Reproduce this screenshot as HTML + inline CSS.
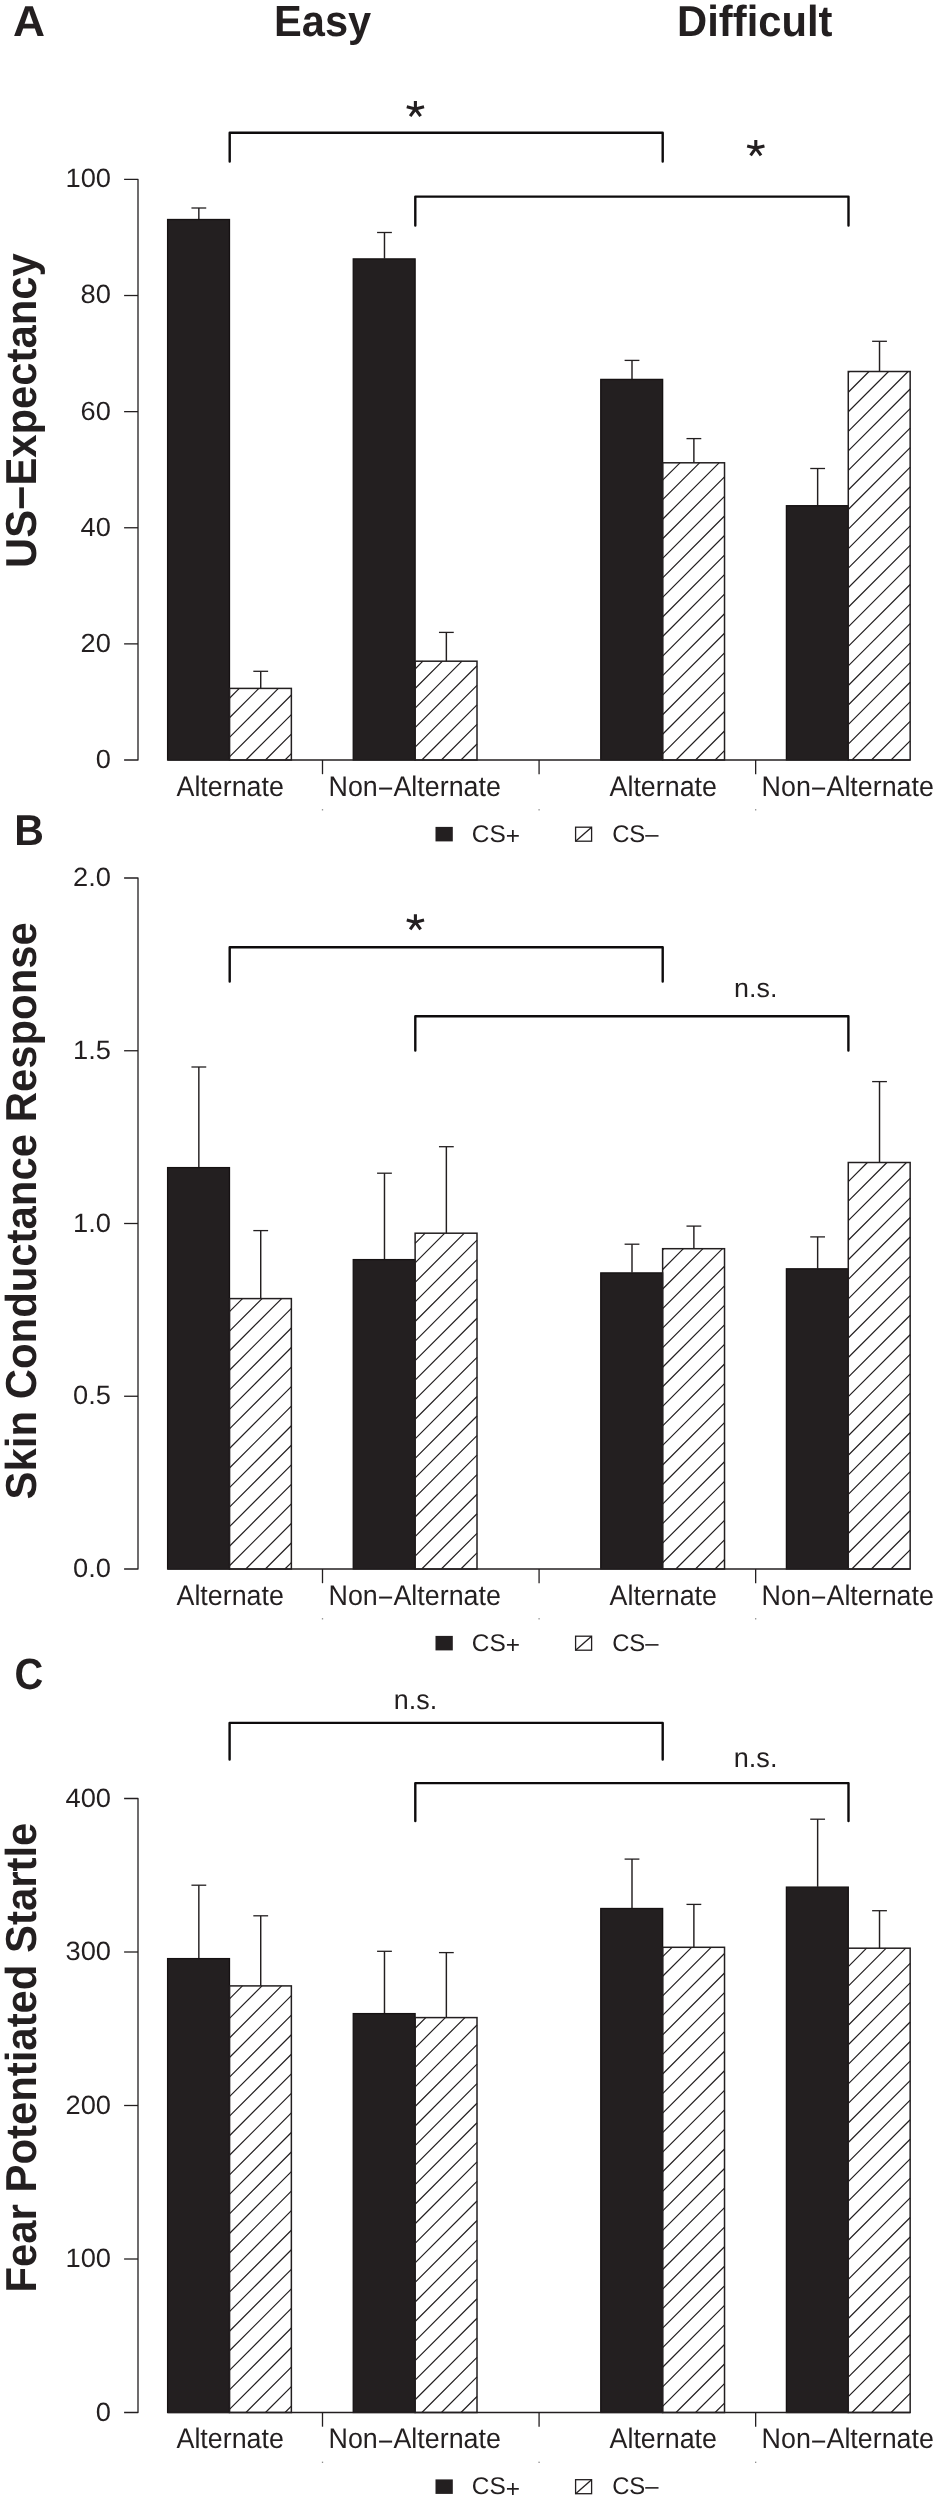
<!DOCTYPE html><html><head><meta charset="utf-8"><style>html,body{margin:0;padding:0;background:#fff;}svg{display:block;will-change:transform;}text{font-family:"Liberation Sans",sans-serif;fill:#231f20;text-rendering:geometricPrecision;}</style></head><body>
<svg width="941" height="2500" viewBox="0 0 941 2500">
<rect width="941" height="2500" fill="#fff"/>
<text transform="translate(12.91 35.50) scale(1.0245 0.9984)" font-size="43.3" font-weight="bold">A</text>
<text transform="translate(14.26 844.84) scale(0.9487 0.9984)" font-size="43.3" font-weight="bold">B</text>
<text transform="translate(14.40 1688.92) scale(0.9204 1.0131)" font-size="43.3" font-weight="bold">C</text>
<text transform="translate(274.05 35.70) scale(0.9900 1.0384)" font-size="42" font-weight="bold">Easy</text>
<text transform="translate(677.10 35.70) scale(0.9941 1.0332)" font-size="42" font-weight="bold">Difficult</text>
<text transform="translate(35.90 410.64) rotate(-90) scale(0.9946 1.0313)" font-size="42" font-weight="bold" text-anchor="middle">US−Expectancy</text>
<text transform="translate(35.90 1210.78) rotate(-90) scale(0.9973 1.0313)" font-size="42" font-weight="bold" text-anchor="middle">Skin Conductance Response</text>
<text transform="translate(35.90 2057.60) rotate(-90) scale(0.9967 1.0313)" font-size="42" font-weight="bold" text-anchor="middle">Fear Potentiated Startle</text>
<text transform="translate(110.86 767.95) scale(1.0072 0.9712)" font-size="27" text-anchor="end">0</text>
<text transform="translate(110.82 651.83) scale(1.0072 0.9712)" font-size="27" text-anchor="end">20</text>
<text transform="translate(110.82 535.71) scale(1.0072 0.9712)" font-size="27" text-anchor="end">40</text>
<text transform="translate(110.82 419.59) scale(1.0072 0.9712)" font-size="27" text-anchor="end">60</text>
<text transform="translate(110.91 303.41) scale(1.0108 0.9765)" font-size="27" text-anchor="end">80</text>
<text transform="translate(111.04 187.41) scale(1.0108 0.9765)" font-size="27" text-anchor="end">100</text>
<text transform="translate(230.21 795.90) scale(0.9939 1.0500)" font-size="27" text-anchor="middle">Alternate</text>
<text transform="translate(414.71 795.90) scale(0.9938 1.0500)" font-size="27" text-anchor="middle">Non<tspan dy="2.2">−</tspan><tspan dy="-2.2">Alternate</tspan></text>
<text transform="translate(663.25 795.90) scale(0.9939 1.0500)" font-size="27" text-anchor="middle">Alternate</text>
<text transform="translate(847.74 795.90) scale(0.9938 1.0500)" font-size="27" text-anchor="middle">Non<tspan dy="2.2">−</tspan><tspan dy="-2.2">Alternate</tspan></text>
<text transform="translate(471.75 841.99) scale(0.9968 0.9855)" font-size="24.5">CS<tspan dy="2.4">+</tspan></text>
<text transform="translate(612.14 841.99) scale(0.9741 0.9855)" font-size="24.5">CS–</text>
<text transform="translate(110.97 1577.00) scale(1.0108 0.9765)" font-size="27" text-anchor="end">0.0</text>
<text transform="translate(110.97 1404.25) scale(1.0108 0.9765)" font-size="27" text-anchor="end">0.5</text>
<text transform="translate(110.97 1231.50) scale(1.0108 0.9765)" font-size="27" text-anchor="end">1.0</text>
<text transform="translate(110.97 1058.63) scale(1.0108 0.9765)" font-size="27" text-anchor="end">1.5</text>
<text transform="translate(110.97 886.00) scale(1.0108 0.9765)" font-size="27" text-anchor="end">2.0</text>
<text transform="translate(230.21 1604.90) scale(0.9939 1.0500)" font-size="27" text-anchor="middle">Alternate</text>
<text transform="translate(414.71 1604.90) scale(0.9938 1.0500)" font-size="27" text-anchor="middle">Non<tspan dy="2.2">−</tspan><tspan dy="-2.2">Alternate</tspan></text>
<text transform="translate(663.25 1604.90) scale(0.9939 1.0500)" font-size="27" text-anchor="middle">Alternate</text>
<text transform="translate(847.74 1604.90) scale(0.9938 1.0500)" font-size="27" text-anchor="middle">Non<tspan dy="2.2">−</tspan><tspan dy="-2.2">Alternate</tspan></text>
<text transform="translate(471.75 1650.99) scale(0.9968 0.9855)" font-size="24.5">CS<tspan dy="2.4">+</tspan></text>
<text transform="translate(612.14 1650.99) scale(0.9741 0.9855)" font-size="24.5">CS–</text>
<text transform="translate(111.05 2420.51) scale(1.0108 0.9765)" font-size="27" text-anchor="end">0</text>
<text transform="translate(111.04 2267.01) scale(1.0108 0.9765)" font-size="27" text-anchor="end">100</text>
<text transform="translate(111.04 2113.51) scale(1.0108 0.9765)" font-size="27" text-anchor="end">200</text>
<text transform="translate(111.04 1960.00) scale(1.0108 0.9765)" font-size="27" text-anchor="end">300</text>
<text transform="translate(111.04 1806.51) scale(1.0108 0.9765)" font-size="27" text-anchor="end">400</text>
<text transform="translate(230.21 2448.40) scale(0.9939 1.0500)" font-size="27" text-anchor="middle">Alternate</text>
<text transform="translate(414.71 2448.40) scale(0.9938 1.0500)" font-size="27" text-anchor="middle">Non<tspan dy="2.2">−</tspan><tspan dy="-2.2">Alternate</tspan></text>
<text transform="translate(663.25 2448.40) scale(0.9939 1.0500)" font-size="27" text-anchor="middle">Alternate</text>
<text transform="translate(847.74 2448.40) scale(0.9938 1.0500)" font-size="27" text-anchor="middle">Non<tspan dy="2.2">−</tspan><tspan dy="-2.2">Alternate</tspan></text>
<text transform="translate(471.75 2494.49) scale(0.9968 0.9855)" font-size="24.5">CS<tspan dy="2.4">+</tspan></text>
<text transform="translate(612.14 2494.49) scale(0.9741 0.9855)" font-size="24.5">CS–</text>
<text transform="translate(755.70 996.88) scale(0.9950 0.9867)" font-size="27" text-anchor="middle">n.s.</text>
<text transform="translate(415.44 1708.76) scale(0.9962 1.0169)" font-size="27" text-anchor="middle">n.s.</text>
<text transform="translate(755.61 1767.44) scale(1.0026 1.0206)" font-size="27" text-anchor="middle">n.s.</text>
<path d="M124.1 179.40 H138.0 V760.00 H124.1" stroke="#231f20" stroke-width="1.3" fill="none" stroke-linejoin="round"/>
<path d="M124.1 643.88 H138.0" stroke="#231f20" stroke-width="1.3"/>
<path d="M124.1 527.76 H138.0" stroke="#231f20" stroke-width="1.3"/>
<path d="M124.1 411.64 H138.0" stroke="#231f20" stroke-width="1.3"/>
<path d="M124.1 295.52 H138.0" stroke="#231f20" stroke-width="1.3"/>
<path d="M198.84 219.20 V208.00" stroke="#231f20" stroke-width="1.45" fill="none"/>
<path d="M191.44 208.00 H206.24" stroke="#231f20" stroke-width="1.3" fill="none"/>
<rect x="167.60" y="219.50" width="61.88" height="540.50" fill="#231f20" stroke="#151112" stroke-width="1.3"/>
<path d="M260.72 688.40 V671.30" stroke="#231f20" stroke-width="1.45" fill="none"/>
<path d="M253.32 671.30 H268.12" stroke="#231f20" stroke-width="1.3" fill="none"/>
<path d="M229.48 698.23 L239.31 688.40 M229.48 717.78 L258.86 688.40 M229.48 737.33 L278.41 688.40 M229.48 756.88 L291.36 695.00 M245.91 760.00 L291.36 714.55 M265.46 760.00 L291.36 734.10 M285.01 760.00 L291.36 753.65" stroke="#231f20" stroke-width="1.2" fill="none"/>
<rect x="229.48" y="688.40" width="61.88" height="71.60" fill="none" stroke="#231f20" stroke-width="1.5"/>
<path d="M384.48 258.60 V232.50" stroke="#231f20" stroke-width="1.45" fill="none"/>
<path d="M377.08 232.50 H391.88" stroke="#231f20" stroke-width="1.3" fill="none"/>
<rect x="353.24" y="258.90" width="61.88" height="501.10" fill="#231f20" stroke="#151112" stroke-width="1.3"/>
<path d="M446.36 661.20 V632.40" stroke="#231f20" stroke-width="1.45" fill="none"/>
<path d="M438.96 632.40 H453.76" stroke="#231f20" stroke-width="1.3" fill="none"/>
<path d="M415.12 668.99 L422.91 661.20 M415.12 688.54 L442.46 661.20 M415.12 708.09 L462.01 661.20 M415.12 727.64 L477.00 665.76 M415.12 747.19 L477.00 685.31 M421.86 760.00 L477.00 704.86 M441.41 760.00 L477.00 724.41 M460.96 760.00 L477.00 743.96" stroke="#231f20" stroke-width="1.2" fill="none"/>
<rect x="415.12" y="661.20" width="61.88" height="98.80" fill="none" stroke="#231f20" stroke-width="1.5"/>
<path d="M632.00 379.10 V360.40" stroke="#231f20" stroke-width="1.45" fill="none"/>
<path d="M624.60 360.40 H639.40" stroke="#231f20" stroke-width="1.3" fill="none"/>
<rect x="600.76" y="379.40" width="61.88" height="380.60" fill="#231f20" stroke="#151112" stroke-width="1.3"/>
<path d="M693.88 462.80 V438.60" stroke="#231f20" stroke-width="1.45" fill="none"/>
<path d="M686.48 438.60 H701.28" stroke="#231f20" stroke-width="1.3" fill="none"/>
<path d="M662.64 480.12 L679.96 462.80 M662.64 499.67 L699.51 462.80 M662.64 519.22 L719.06 462.80 M662.64 538.77 L724.52 476.89 M662.64 558.32 L724.52 496.44 M662.64 577.87 L724.52 515.99 M662.64 597.42 L724.52 535.54 M662.64 616.97 L724.52 555.09 M662.64 636.52 L724.52 574.64 M662.64 656.07 L724.52 594.19 M662.64 675.62 L724.52 613.74 M662.64 695.17 L724.52 633.29 M662.64 714.72 L724.52 652.84 M662.64 734.27 L724.52 672.39 M662.64 753.82 L724.52 691.94 M676.01 760.00 L724.52 711.49 M695.56 760.00 L724.52 731.04 M715.11 760.00 L724.52 750.59" stroke="#231f20" stroke-width="1.2" fill="none"/>
<rect x="662.64" y="462.80" width="61.88" height="297.20" fill="none" stroke="#231f20" stroke-width="1.5"/>
<path d="M817.64 505.40 V468.50" stroke="#231f20" stroke-width="1.45" fill="none"/>
<path d="M810.24 468.50 H825.04" stroke="#231f20" stroke-width="1.3" fill="none"/>
<rect x="786.40" y="505.70" width="61.88" height="254.30" fill="#231f20" stroke="#151112" stroke-width="1.3"/>
<path d="M879.52 371.50 V341.30" stroke="#231f20" stroke-width="1.45" fill="none"/>
<path d="M872.12 341.30 H886.92" stroke="#231f20" stroke-width="1.3" fill="none"/>
<path d="M848.28 372.68 L849.46 371.50 M848.28 392.23 L869.01 371.50 M848.28 411.78 L888.56 371.50 M848.28 431.33 L908.11 371.50 M848.28 450.88 L910.16 389.00 M848.28 470.43 L910.16 408.55 M848.28 489.98 L910.16 428.10 M848.28 509.53 L910.16 447.65 M848.28 529.08 L910.16 467.20 M848.28 548.63 L910.16 486.75 M848.28 568.18 L910.16 506.30 M848.28 587.73 L910.16 525.85 M848.28 607.28 L910.16 545.40 M848.28 626.83 L910.16 564.95 M848.28 646.38 L910.16 584.50 M848.28 665.93 L910.16 604.05 M848.28 685.48 L910.16 623.60 M848.28 705.03 L910.16 643.15 M848.28 724.58 L910.16 662.70 M848.28 744.13 L910.16 682.25 M851.96 760.00 L910.16 701.80 M871.51 760.00 L910.16 721.35 M891.06 760.00 L910.16 740.90" stroke="#231f20" stroke-width="1.2" fill="none"/>
<rect x="848.28" y="371.50" width="61.88" height="388.50" fill="none" stroke="#231f20" stroke-width="1.5"/>
<path d="M167.60 760.00 H910.16" stroke="#231f20" stroke-width="1.35"/>
<path d="M322.50 760.00 V774.20" stroke="#231f20" stroke-width="1.3"/>
<rect x="321.85" y="809.15" width="1.3" height="1.3" fill="#888"/>
<path d="M539.08 760.00 V774.20" stroke="#231f20" stroke-width="1.3"/>
<rect x="538.43" y="809.15" width="1.3" height="1.3" fill="#888"/>
<path d="M755.66 760.00 V774.20" stroke="#231f20" stroke-width="1.3"/>
<rect x="755.01" y="809.15" width="1.3" height="1.3" fill="#888"/>
<rect x="435.5" y="826.90" width="17.3" height="14.5" fill="#231f20"/>
<rect x="575.6" y="827.20" width="16" height="14" fill="none" stroke="#231f20" stroke-width="1.3"/>
<path d="M575.6 841.20 L591.6 827.20" stroke="#231f20" stroke-width="1.3"/>
<path d="M229.70 161.50 V132.80 H662.70 V161.50" stroke="#0d0b0c" stroke-width="2.4" fill="none" stroke-linecap="round" stroke-linejoin="round"/>
<path d="M415.30 225.60 V196.60 H848.50 V225.60" stroke="#0d0b0c" stroke-width="2.4" fill="none" stroke-linecap="round" stroke-linejoin="round"/>
<path d="M415.40 109.00 L415.40 101.00 M415.40 109.00 L424.04 106.85 M415.40 109.00 L406.76 106.85 M415.40 109.00 L420.63 116.20 M415.40 109.00 L410.17 116.20" stroke="#231f20" stroke-width="3.1" fill="none"/>
<path d="M755.80 148.10 L755.80 140.10 M755.80 148.10 L764.44 145.95 M755.80 148.10 L747.16 145.95 M755.80 148.10 L761.03 155.30 M755.80 148.10 L750.57 155.30" stroke="#231f20" stroke-width="3.1" fill="none"/>
<path d="M124.1 878.00 H138.0 V1569.00 H124.1" stroke="#231f20" stroke-width="1.3" fill="none" stroke-linejoin="round"/>
<path d="M124.1 1396.25 H138.0" stroke="#231f20" stroke-width="1.3"/>
<path d="M124.1 1223.50 H138.0" stroke="#231f20" stroke-width="1.3"/>
<path d="M124.1 1050.75 H138.0" stroke="#231f20" stroke-width="1.3"/>
<path d="M198.84 1167.30 V1067.00" stroke="#231f20" stroke-width="1.45" fill="none"/>
<path d="M191.44 1067.00 H206.24" stroke="#231f20" stroke-width="1.3" fill="none"/>
<rect x="167.60" y="1167.60" width="61.88" height="401.40" fill="#231f20" stroke="#151112" stroke-width="1.3"/>
<path d="M260.72 1298.60 V1230.60" stroke="#231f20" stroke-width="1.45" fill="none"/>
<path d="M253.32 1230.60 H268.12" stroke="#231f20" stroke-width="1.3" fill="none"/>
<path d="M229.48 1311.64 L242.52 1298.60 M229.48 1331.19 L262.07 1298.60 M229.48 1350.74 L281.62 1298.60 M229.48 1370.29 L291.36 1308.41 M229.48 1389.84 L291.36 1327.96 M229.48 1409.39 L291.36 1347.51 M229.48 1428.94 L291.36 1367.06 M229.48 1448.49 L291.36 1386.61 M229.48 1468.04 L291.36 1406.16 M229.48 1487.59 L291.36 1425.71 M229.48 1507.14 L291.36 1445.26 M229.48 1526.69 L291.36 1464.81 M229.48 1546.24 L291.36 1484.36 M229.48 1565.79 L291.36 1503.91 M245.82 1569.00 L291.36 1523.46 M265.37 1569.00 L291.36 1543.01 M284.92 1569.00 L291.36 1562.56" stroke="#231f20" stroke-width="1.2" fill="none"/>
<rect x="229.48" y="1298.60" width="61.88" height="270.40" fill="none" stroke="#231f20" stroke-width="1.5"/>
<path d="M384.48 1259.30 V1173.20" stroke="#231f20" stroke-width="1.45" fill="none"/>
<path d="M377.08 1173.20 H391.88" stroke="#231f20" stroke-width="1.3" fill="none"/>
<rect x="353.24" y="1259.60" width="61.88" height="309.40" fill="#231f20" stroke="#151112" stroke-width="1.3"/>
<path d="M446.36 1233.20 V1146.70" stroke="#231f20" stroke-width="1.45" fill="none"/>
<path d="M438.96 1146.70 H453.76" stroke="#231f20" stroke-width="1.3" fill="none"/>
<path d="M415.12 1243.30 L425.22 1233.20 M415.12 1262.85 L444.77 1233.20 M415.12 1282.40 L464.32 1233.20 M415.12 1301.95 L477.00 1240.07 M415.12 1321.50 L477.00 1259.62 M415.12 1341.05 L477.00 1279.17 M415.12 1360.60 L477.00 1298.72 M415.12 1380.15 L477.00 1318.27 M415.12 1399.70 L477.00 1337.82 M415.12 1419.25 L477.00 1357.37 M415.12 1438.80 L477.00 1376.92 M415.12 1458.35 L477.00 1396.47 M415.12 1477.90 L477.00 1416.02 M415.12 1497.45 L477.00 1435.57 M415.12 1517.00 L477.00 1455.12 M415.12 1536.55 L477.00 1474.67 M415.12 1556.10 L477.00 1494.22 M421.77 1569.00 L477.00 1513.77 M441.32 1569.00 L477.00 1533.32 M460.87 1569.00 L477.00 1552.87" stroke="#231f20" stroke-width="1.2" fill="none"/>
<rect x="415.12" y="1233.20" width="61.88" height="335.80" fill="none" stroke="#231f20" stroke-width="1.5"/>
<path d="M632.00 1272.60 V1244.20" stroke="#231f20" stroke-width="1.45" fill="none"/>
<path d="M624.60 1244.20 H639.40" stroke="#231f20" stroke-width="1.3" fill="none"/>
<rect x="600.76" y="1272.90" width="61.88" height="296.10" fill="#231f20" stroke="#151112" stroke-width="1.3"/>
<path d="M693.88 1248.70 V1226.10" stroke="#231f20" stroke-width="1.45" fill="none"/>
<path d="M686.48 1226.10 H701.28" stroke="#231f20" stroke-width="1.3" fill="none"/>
<path d="M662.64 1249.93 L663.87 1248.70 M662.64 1269.48 L683.42 1248.70 M662.64 1289.03 L702.97 1248.70 M662.64 1308.58 L722.52 1248.70 M662.64 1328.13 L724.52 1266.25 M662.64 1347.68 L724.52 1285.80 M662.64 1367.23 L724.52 1305.35 M662.64 1386.78 L724.52 1324.90 M662.64 1406.33 L724.52 1344.45 M662.64 1425.88 L724.52 1364.00 M662.64 1445.43 L724.52 1383.55 M662.64 1464.98 L724.52 1403.10 M662.64 1484.53 L724.52 1422.65 M662.64 1504.08 L724.52 1442.20 M662.64 1523.63 L724.52 1461.75 M662.64 1543.18 L724.52 1481.30 M662.64 1562.73 L724.52 1500.85 M675.92 1569.00 L724.52 1520.40 M695.47 1569.00 L724.52 1539.95 M715.02 1569.00 L724.52 1559.50" stroke="#231f20" stroke-width="1.2" fill="none"/>
<rect x="662.64" y="1248.70" width="61.88" height="320.30" fill="none" stroke="#231f20" stroke-width="1.5"/>
<path d="M817.64 1268.50 V1236.90" stroke="#231f20" stroke-width="1.45" fill="none"/>
<path d="M810.24 1236.90 H825.04" stroke="#231f20" stroke-width="1.3" fill="none"/>
<rect x="786.40" y="1268.80" width="61.88" height="300.20" fill="#231f20" stroke="#151112" stroke-width="1.3"/>
<path d="M879.52 1162.50 V1081.60" stroke="#231f20" stroke-width="1.45" fill="none"/>
<path d="M872.12 1081.60 H886.92" stroke="#231f20" stroke-width="1.3" fill="none"/>
<path d="M848.28 1181.59 L867.37 1162.50 M848.28 1201.14 L886.92 1162.50 M848.28 1220.69 L906.47 1162.50 M848.28 1240.24 L910.16 1178.36 M848.28 1259.79 L910.16 1197.91 M848.28 1279.34 L910.16 1217.46 M848.28 1298.89 L910.16 1237.01 M848.28 1318.44 L910.16 1256.56 M848.28 1337.99 L910.16 1276.11 M848.28 1357.54 L910.16 1295.66 M848.28 1377.09 L910.16 1315.21 M848.28 1396.64 L910.16 1334.76 M848.28 1416.19 L910.16 1354.31 M848.28 1435.74 L910.16 1373.86 M848.28 1455.29 L910.16 1393.41 M848.28 1474.84 L910.16 1412.96 M848.28 1494.39 L910.16 1432.51 M848.28 1513.94 L910.16 1452.06 M848.28 1533.49 L910.16 1471.61 M848.28 1553.04 L910.16 1491.16 M851.87 1569.00 L910.16 1510.71 M871.42 1569.00 L910.16 1530.26 M890.97 1569.00 L910.16 1549.81" stroke="#231f20" stroke-width="1.2" fill="none"/>
<rect x="848.28" y="1162.50" width="61.88" height="406.50" fill="none" stroke="#231f20" stroke-width="1.5"/>
<path d="M167.60 1569.00 H910.16" stroke="#231f20" stroke-width="1.35"/>
<path d="M322.50 1569.00 V1583.20" stroke="#231f20" stroke-width="1.3"/>
<rect x="321.85" y="1618.15" width="1.3" height="1.3" fill="#888"/>
<path d="M539.08 1569.00 V1583.20" stroke="#231f20" stroke-width="1.3"/>
<rect x="538.43" y="1618.15" width="1.3" height="1.3" fill="#888"/>
<path d="M755.66 1569.00 V1583.20" stroke="#231f20" stroke-width="1.3"/>
<rect x="755.01" y="1618.15" width="1.3" height="1.3" fill="#888"/>
<rect x="435.5" y="1635.90" width="17.3" height="14.5" fill="#231f20"/>
<rect x="575.6" y="1636.20" width="16" height="14" fill="none" stroke="#231f20" stroke-width="1.3"/>
<path d="M575.6 1650.20 L591.6 1636.20" stroke="#231f20" stroke-width="1.3"/>
<path d="M229.70 981.60 V947.30 H662.70 V981.60" stroke="#0d0b0c" stroke-width="2.4" fill="none" stroke-linecap="round" stroke-linejoin="round"/>
<path d="M415.30 1050.50 V1016.30 H848.40 V1050.50" stroke="#0d0b0c" stroke-width="2.4" fill="none" stroke-linecap="round" stroke-linejoin="round"/>
<path d="M415.40 922.20 L415.40 914.20 M415.40 922.20 L424.04 920.05 M415.40 922.20 L406.76 920.05 M415.40 922.20 L420.63 929.40 M415.40 922.20 L410.17 929.40" stroke="#231f20" stroke-width="3.1" fill="none"/>
<path d="M124.1 1798.50 H138.0 V2412.50 H124.1" stroke="#231f20" stroke-width="1.3" fill="none" stroke-linejoin="round"/>
<path d="M124.1 2259.00 H138.0" stroke="#231f20" stroke-width="1.3"/>
<path d="M124.1 2105.50 H138.0" stroke="#231f20" stroke-width="1.3"/>
<path d="M124.1 1952.00 H138.0" stroke="#231f20" stroke-width="1.3"/>
<path d="M198.84 1958.30 V1885.20" stroke="#231f20" stroke-width="1.45" fill="none"/>
<path d="M191.44 1885.20 H206.24" stroke="#231f20" stroke-width="1.3" fill="none"/>
<rect x="167.60" y="1958.60" width="61.88" height="453.90" fill="#231f20" stroke="#151112" stroke-width="1.3"/>
<path d="M260.72 1985.90 V1915.80" stroke="#231f20" stroke-width="1.45" fill="none"/>
<path d="M253.32 1915.80 H268.12" stroke="#231f20" stroke-width="1.3" fill="none"/>
<path d="M229.48 1998.86 L242.44 1985.90 M229.48 2018.41 L261.99 1985.90 M229.48 2037.96 L281.54 1985.90 M229.48 2057.51 L291.36 1995.63 M229.48 2077.06 L291.36 2015.18 M229.48 2096.61 L291.36 2034.73 M229.48 2116.16 L291.36 2054.28 M229.48 2135.71 L291.36 2073.83 M229.48 2155.26 L291.36 2093.38 M229.48 2174.81 L291.36 2112.93 M229.48 2194.36 L291.36 2132.48 M229.48 2213.91 L291.36 2152.03 M229.48 2233.46 L291.36 2171.58 M229.48 2253.01 L291.36 2191.13 M229.48 2272.56 L291.36 2210.68 M229.48 2292.11 L291.36 2230.23 M229.48 2311.66 L291.36 2249.78 M229.48 2331.21 L291.36 2269.33 M229.48 2350.76 L291.36 2288.88 M229.48 2370.31 L291.36 2308.43 M229.48 2389.86 L291.36 2327.98 M229.48 2409.41 L291.36 2347.53 M245.94 2412.50 L291.36 2367.08 M265.49 2412.50 L291.36 2386.63 M285.04 2412.50 L291.36 2406.18" stroke="#231f20" stroke-width="1.2" fill="none"/>
<rect x="229.48" y="1985.90" width="61.88" height="426.60" fill="none" stroke="#231f20" stroke-width="1.5"/>
<path d="M384.48 2013.30 V1951.30" stroke="#231f20" stroke-width="1.45" fill="none"/>
<path d="M377.08 1951.30 H391.88" stroke="#231f20" stroke-width="1.3" fill="none"/>
<rect x="353.24" y="2013.60" width="61.88" height="398.90" fill="#231f20" stroke="#151112" stroke-width="1.3"/>
<path d="M446.36 2017.60 V1952.60" stroke="#231f20" stroke-width="1.45" fill="none"/>
<path d="M438.96 1952.60 H453.76" stroke="#231f20" stroke-width="1.3" fill="none"/>
<path d="M415.12 2028.27 L425.79 2017.60 M415.12 2047.82 L445.34 2017.60 M415.12 2067.37 L464.89 2017.60 M415.12 2086.92 L477.00 2025.04 M415.12 2106.47 L477.00 2044.59 M415.12 2126.02 L477.00 2064.14 M415.12 2145.57 L477.00 2083.69 M415.12 2165.12 L477.00 2103.24 M415.12 2184.67 L477.00 2122.79 M415.12 2204.22 L477.00 2142.34 M415.12 2223.77 L477.00 2161.89 M415.12 2243.32 L477.00 2181.44 M415.12 2262.87 L477.00 2200.99 M415.12 2282.42 L477.00 2220.54 M415.12 2301.97 L477.00 2240.09 M415.12 2321.52 L477.00 2259.64 M415.12 2341.07 L477.00 2279.19 M415.12 2360.62 L477.00 2298.74 M415.12 2380.17 L477.00 2318.29 M415.12 2399.72 L477.00 2337.84 M421.89 2412.50 L477.00 2357.39 M441.44 2412.50 L477.00 2376.94 M460.99 2412.50 L477.00 2396.49" stroke="#231f20" stroke-width="1.2" fill="none"/>
<rect x="415.12" y="2017.60" width="61.88" height="394.90" fill="none" stroke="#231f20" stroke-width="1.5"/>
<path d="M632.00 1908.20 V1859.10" stroke="#231f20" stroke-width="1.45" fill="none"/>
<path d="M624.60 1859.10 H639.40" stroke="#231f20" stroke-width="1.3" fill="none"/>
<rect x="600.76" y="1908.50" width="61.88" height="504.00" fill="#231f20" stroke="#151112" stroke-width="1.3"/>
<path d="M693.88 1947.30 V1904.40" stroke="#231f20" stroke-width="1.45" fill="none"/>
<path d="M686.48 1904.40 H701.28" stroke="#231f20" stroke-width="1.3" fill="none"/>
<path d="M662.64 1956.70 L672.04 1947.30 M662.64 1976.25 L691.59 1947.30 M662.64 1995.80 L711.14 1947.30 M662.64 2015.35 L724.52 1953.47 M662.64 2034.90 L724.52 1973.02 M662.64 2054.45 L724.52 1992.57 M662.64 2074.00 L724.52 2012.12 M662.64 2093.55 L724.52 2031.67 M662.64 2113.10 L724.52 2051.22 M662.64 2132.65 L724.52 2070.77 M662.64 2152.20 L724.52 2090.32 M662.64 2171.75 L724.52 2109.87 M662.64 2191.30 L724.52 2129.42 M662.64 2210.85 L724.52 2148.97 M662.64 2230.40 L724.52 2168.52 M662.64 2249.95 L724.52 2188.07 M662.64 2269.50 L724.52 2207.62 M662.64 2289.05 L724.52 2227.17 M662.64 2308.60 L724.52 2246.72 M662.64 2328.15 L724.52 2266.27 M662.64 2347.70 L724.52 2285.82 M662.64 2367.25 L724.52 2305.37 M662.64 2386.80 L724.52 2324.92 M662.64 2406.35 L724.52 2344.47 M676.04 2412.50 L724.52 2364.02 M695.59 2412.50 L724.52 2383.57 M715.14 2412.50 L724.52 2403.12" stroke="#231f20" stroke-width="1.2" fill="none"/>
<rect x="662.64" y="1947.30" width="61.88" height="465.20" fill="none" stroke="#231f20" stroke-width="1.5"/>
<path d="M817.64 1886.80 V1819.20" stroke="#231f20" stroke-width="1.45" fill="none"/>
<path d="M810.24 1819.20 H825.04" stroke="#231f20" stroke-width="1.3" fill="none"/>
<rect x="786.40" y="1887.10" width="61.88" height="525.40" fill="#231f20" stroke="#151112" stroke-width="1.3"/>
<path d="M879.52 1948.20 V1910.70" stroke="#231f20" stroke-width="1.45" fill="none"/>
<path d="M872.12 1910.70 H886.92" stroke="#231f20" stroke-width="1.3" fill="none"/>
<path d="M848.28 1966.56 L866.64 1948.20 M848.28 1986.11 L886.19 1948.20 M848.28 2005.66 L905.74 1948.20 M848.28 2025.21 L910.16 1963.33 M848.28 2044.76 L910.16 1982.88 M848.28 2064.31 L910.16 2002.43 M848.28 2083.86 L910.16 2021.98 M848.28 2103.41 L910.16 2041.53 M848.28 2122.96 L910.16 2061.08 M848.28 2142.51 L910.16 2080.63 M848.28 2162.06 L910.16 2100.18 M848.28 2181.61 L910.16 2119.73 M848.28 2201.16 L910.16 2139.28 M848.28 2220.71 L910.16 2158.83 M848.28 2240.26 L910.16 2178.38 M848.28 2259.81 L910.16 2197.93 M848.28 2279.36 L910.16 2217.48 M848.28 2298.91 L910.16 2237.03 M848.28 2318.46 L910.16 2256.58 M848.28 2338.01 L910.16 2276.13 M848.28 2357.56 L910.16 2295.68 M848.28 2377.11 L910.16 2315.23 M848.28 2396.66 L910.16 2334.78 M851.99 2412.50 L910.16 2354.33 M871.54 2412.50 L910.16 2373.88 M891.09 2412.50 L910.16 2393.43" stroke="#231f20" stroke-width="1.2" fill="none"/>
<rect x="848.28" y="1948.20" width="61.88" height="464.30" fill="none" stroke="#231f20" stroke-width="1.5"/>
<path d="M167.60 2412.50 H910.16" stroke="#231f20" stroke-width="1.35"/>
<path d="M322.50 2412.50 V2426.70" stroke="#231f20" stroke-width="1.3"/>
<rect x="321.85" y="2461.65" width="1.3" height="1.3" fill="#888"/>
<path d="M539.08 2412.50 V2426.70" stroke="#231f20" stroke-width="1.3"/>
<rect x="538.43" y="2461.65" width="1.3" height="1.3" fill="#888"/>
<path d="M755.66 2412.50 V2426.70" stroke="#231f20" stroke-width="1.3"/>
<rect x="755.01" y="2461.65" width="1.3" height="1.3" fill="#888"/>
<rect x="435.5" y="2479.40" width="17.3" height="14.5" fill="#231f20"/>
<rect x="575.6" y="2479.70" width="16" height="14" fill="none" stroke="#231f20" stroke-width="1.3"/>
<path d="M575.6 2493.70 L591.6 2479.70" stroke="#231f20" stroke-width="1.3"/>
<path d="M229.60 1759.60 V1722.90 H662.70 V1759.60" stroke="#0d0b0c" stroke-width="2.4" fill="none" stroke-linecap="round" stroke-linejoin="round"/>
<path d="M415.30 1821.10 V1783.10 H848.50 V1821.10" stroke="#0d0b0c" stroke-width="2.4" fill="none" stroke-linecap="round" stroke-linejoin="round"/>
</svg></body></html>
